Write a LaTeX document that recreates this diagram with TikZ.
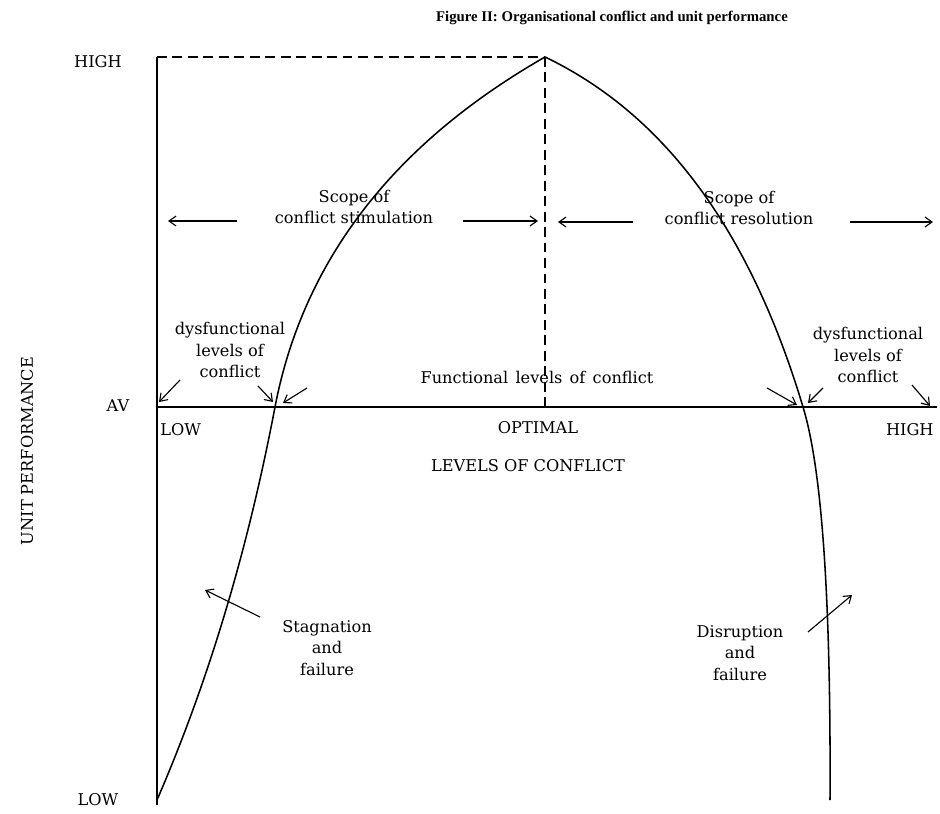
\documentclass[tikz,border=0pt]{standalone}
\usepackage{fontspec}
\setmainfont{DejaVu Serif}
\newfontfamily\titlefont{Liberation Serif}
\usetikzlibrary{arrows.meta}

\begin{document}
\begin{tikzpicture}[x=0.025cm, y=-0.025cm, line width=1.1pt,
  font=\fontsize{11.5}{15.5}\selectfont]
\useasboundingbox (0,0) rectangle (940,814);

\coordinate (O) at (157,407);
\coordinate (T) at (157,57);
\coordinate (B) at (157,805);
\coordinate (E) at (937,407);
\coordinate (P) at (545,57);
\coordinate (Q) at (545,407);
\coordinate (CL) at (275,407);
\coordinate (CR) at (803,407);

% axes and dashed guides
\draw (B)--(T);
\draw (O)--(E);
\draw [dash pattern=on 7pt off 4pt] (T)--(P);
\draw [dash pattern=on 7pt off 4pt] (P)--(Q);

% the two branches
\draw (P) .. controls (393,144) and (303,261) .. (CL)
  .. controls (248,549) and (209,680) .. (157,800);
\draw (P) .. controls (664,114) and (750,230) .. (CR)
  .. controls (822,469) and (831,600) .. (830,800);

% labels
\node [font=\titlefont\bfseries\fontsize{10.5}{12}\selectfont] (title)
  at (612,18) {Figure II: Organisational conflict and unit performance};
\node (yhigh) at (98,62) {HIGH};
\node (yav) at (118,406) {AV};
\node (ylow) at (98,800) {LOW};
\node [anchor=west] (xlow) at (155,430) {LOW};
\node (xopt) at (538,428) {OPTIMAL};
\node [anchor=east] (xhigh) at (939,430) {HIGH};
\node (xlabel) at (528,466) {LEVELS OF CONFLICT};
\node [rotate=90] (ylabel) at (27,451) {UNIT PERFORMANCE};

\node [align=center] (stim) at (354,207) {Scope of\\conflict stimulation};
\node [align=center] (resol) at (739,208) {Scope of\\conflict resolution};
\node [align=center] (dysl) at (230,350) {dysfunctional\\levels of\\conflict};
\node [align=center] (dysr) at (868,355) {dysfunctional\\levels of\\conflict};
\node (func) at (537,377)
  {\spaceskip=0.45em plus 0.1em\relax Functional levels of conflict};
\node [align=center] (stag) at (327,648) {Stagnation\\and\\failure};
\node [align=center] (disr) at (740,653) {Disruption\\and\\failure};

% arrow ends
\coordinate (sl0) at (237,221); \coordinate (sl1) at (168,221);
\coordinate (sr0) at (463,221); \coordinate (sr1) at (538,221);
\coordinate (rl0) at (633,222); \coordinate (rl1) at (558,222);
\coordinate (rr0) at (850,222); \coordinate (rr1) at (933,222);
\coordinate (da0) at (180,380); \coordinate (da1) at (159,402);
\coordinate (db0) at (258,386); \coordinate (db1) at (273,402);
\coordinate (dc0) at (307,388); \coordinate (dc1) at (283,403);
\coordinate (dd0) at (767,388); \coordinate (dd1) at (797,405);
\coordinate (de0) at (823,388); \coordinate (de1) at (808,403);
\coordinate (df0) at (912,385); \coordinate (df1) at (930,406);
\coordinate (st0) at (260,617); \coordinate (st1) at (205,590);
\coordinate (di0) at (808,632); \coordinate (di1) at (852,595);

\begin{scope}[-{Straight Barb[length=5pt,width=7pt]}, line width=0.8pt]
\draw (sl0)--(sl1);
\draw (sr0)--(sr1);
\draw (rl0)--(rl1);
\draw (rr0)--(rr1);
\draw (da0)--(da1);
\draw (db0)--(db1);
\draw (dc0)--(dc1);
\draw (dd0)--(dd1);
\draw (de0)--(de1);
\draw (df0)--(df1);
\draw (st0)--(st1);
\draw (di0)--(di1);
\end{scope}

\end{tikzpicture}
\end{document}
